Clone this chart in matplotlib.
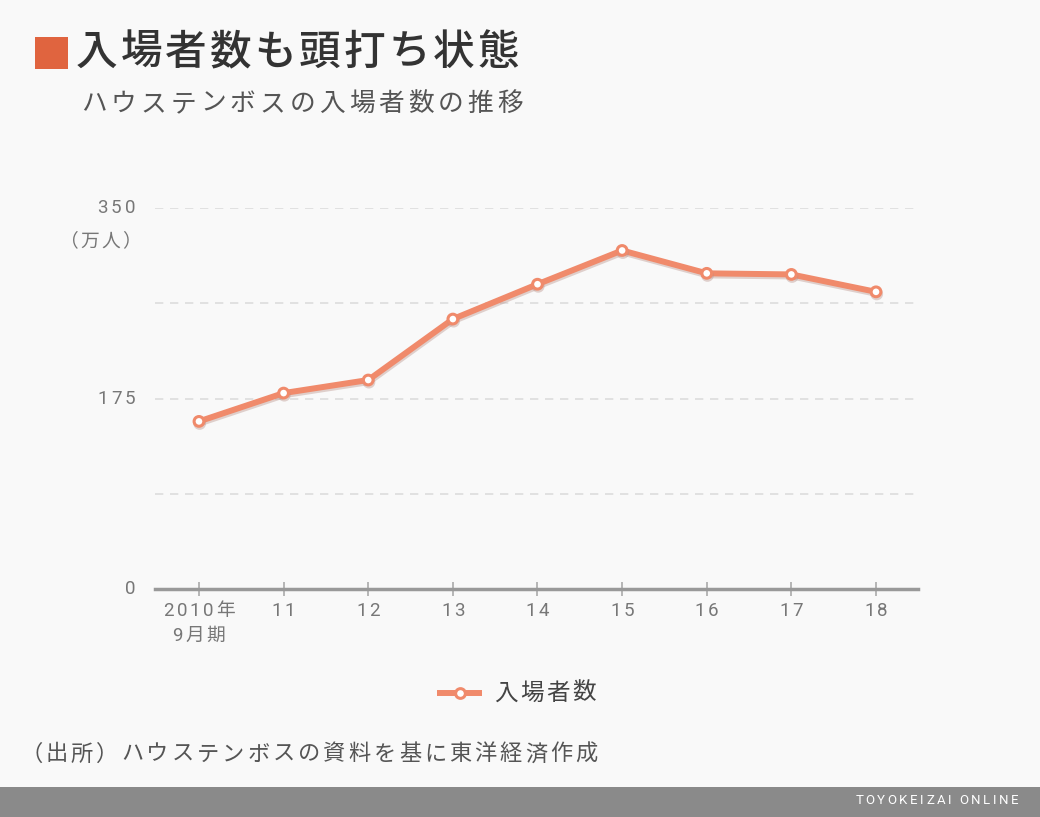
import matplotlib.pyplot as plt
import matplotlib.patheffects as pe
from matplotlib.patches import Rectangle

plt.rcParams['font.family'] = ['Noto Sans CJK JP', 'DejaVu Sans']

# data (万人)
years = ['2010年', '11', '12', '13', '14', '15', '16', '17', '18']
year_sub = '9月期'
visitors = [154, 180, 192, 248, 280, 311, 290, 289, 273]
yticks = [0, 87.5, 175, 262.5, 350]
ytick_labels = ['0', '', '175', '', '350']

W, H = 1040, 817
bg = '#f9f9f9'
line_col = '#f08a6b'
num_font = ['Roboto', 'Noto Sans CJK JP']

fig = plt.figure(figsize=(W / 100, H / 100), dpi=100, facecolor=bg)
ax = fig.add_axes([0.149, 0.279, 0.734, 0.4664], facecolor=bg)
renderer = fig.canvas.get_renderer()


def spaced(x, y, s, size, color, gap, ha='left', family=None, **kw):
    # text with letter spacing; x, y in pixels from the top-left corner
    objs, widths = [], []
    for ch in s:
        t = fig.text(0, 0, ch, fontsize=size, color=color, va='center', ha='left',
                     family=family or plt.rcParams['font.family'], **kw)
        objs.append(t)
        widths.append(t.get_window_extent(renderer).width)
    total = sum(widths) + gap * (len(s) - 1)
    start = {'left': x, 'right': x - total, 'center': x - total / 2}[ha]
    for t, w in zip(objs, widths):
        t.set_position((start / W, 1 - y / H))
        start += w + gap


x = list(range(len(years)))
ax.plot(x, visitors, color=line_col, lw=4.3, marker='o', ms=7,
        mfc='white', mec=line_col, mew=2.2, zorder=3, clip_on=False,
        path_effects=[pe.SimpleLineShadow(offset=(0.5, -1.5), shadow_color='#b89088', alpha=0.4),
                      pe.Normal()])

ax.set_xlim(-0.52, 8.5)
ax.set_ylim(0, 350)
ax.set_yticks(yticks)
ax.set_yticklabels([])
ax.set_xticks(x)
ax.set_xticklabels([])

ax.tick_params(axis='y', length=0)
ax.tick_params(axis='x', length=10, width=1.2, color='#aaaaaa', direction='inout')

for s in ['top', 'right', 'left']:
    ax.spines[s].set_visible(False)
ax.spines['bottom'].set_color('#999999')
ax.spines['bottom'].set_linewidth(2.5)

for v in yticks[1:]:
    ax.axhline(v, color='#dddddd', lw=1.2, ls=(0, (5, 4)), zorder=1)

# tick labels with letter spacing, placed from the axes scales
for v, lab in zip(yticks, ytick_labels):
    if lab:
        py = H - ax.transData.transform((0, v))[1]
        spaced(135, py, lab, 13.5, '#777777', 3, ha='right', family=num_font)
for i, lab in enumerate(years):
    px = ax.transData.transform((i, 0))[0]
    spaced(px, 611, lab, 13.5, '#777777', 2.6, ha='center', family=num_font)
spaced(ax.transData.transform((0, 0))[0], 636, year_sub, 13.5, '#777777', 2.5,
       ha='center', family=num_font)

# unit label
spaced(141, 241, '（万人）', 13.5, '#777777', 2, ha='right')

# title block
fig.patches.append(Rectangle((35 / W, 1 - 69 / H), 33 / W, 32 / H,
                             transform=fig.transFigure, facecolor='#e0643f',
                             edgecolor='none'))
spaced(76, 52, '入場者数も頭打ち状態', 30, '#333333', 3, fontweight='medium')
spaced(81, 104, 'ハウステンボスの入場者数の推移', 18.5, '#555555', 4)

# legend
ax_leg = fig.add_axes([437 / W, 1 - 703 / H, 45 / W, 20 / H])
ax_leg.set_axis_off()
ax_leg.set_xlim(0, 1)
ax_leg.set_ylim(0, 1)
ax_leg.plot([0, 1], [0.5, 0.5], color=line_col, lw=4.3, solid_capstyle='round')
ax_leg.plot([0.5], [0.5], 'o', ms=7, mfc='white', mec=line_col, mew=2.2)
spaced(494, 693, '入場者数', 17, '#444444', 2.5)

# source
spaced(20, 754, '（出所）ハウステンボスの資料を基に東洋経済作成', 16, '#555555', 3)

# footer bar
fig.patches.append(Rectangle((0, 0), 1, 30 / H, transform=fig.transFigure,
                             facecolor='#8a8a8a', edgecolor='none'))
spaced(1018, 801, 'TOYOKEIZAI ONLINE', 9.5, 'white', 2.5, ha='right',
       family=['Roboto', 'DejaVu Sans'])

fig.savefig('out.png', dpi=100, facecolor=bg)
